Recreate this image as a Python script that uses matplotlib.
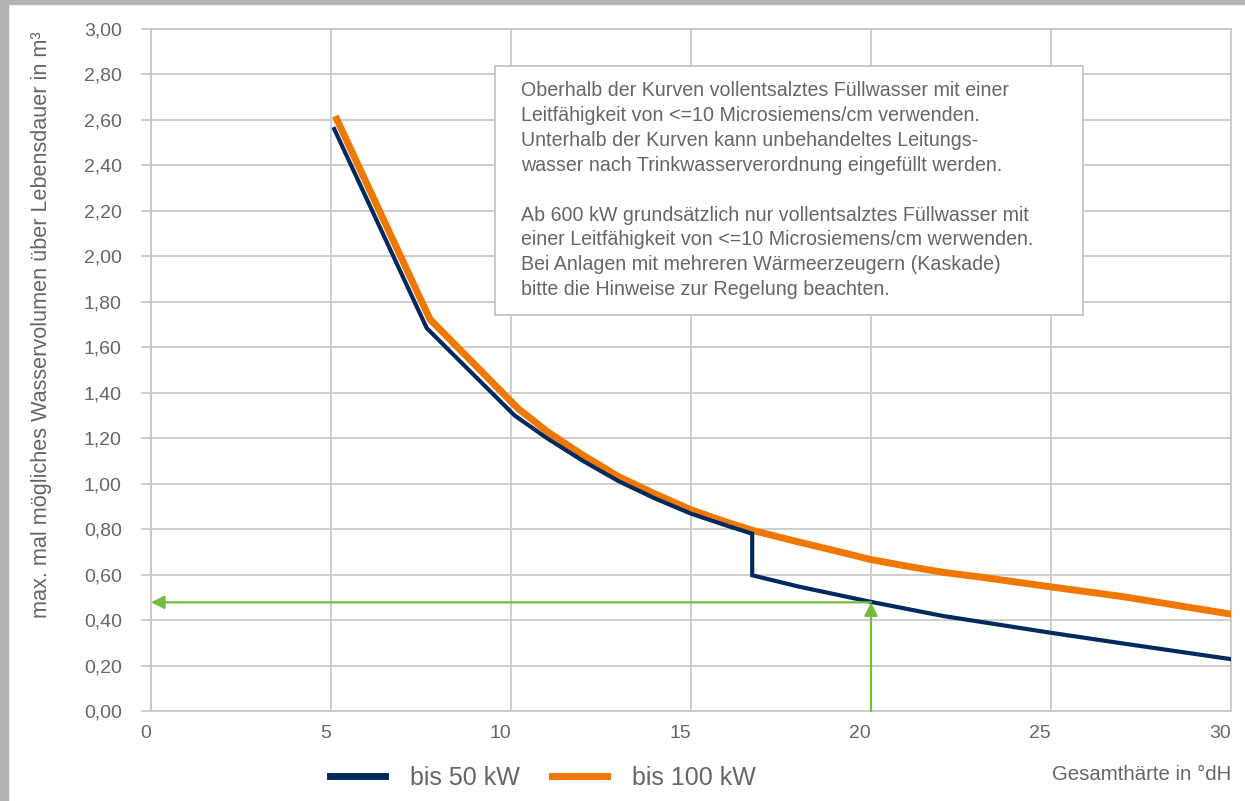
"""Füllwasser-Diagramm: max. Wasservolumen über Gesamthärte."""

import matplotlib

matplotlib.use("Agg")
import matplotlib.pyplot as plt
from matplotlib.patches import Rectangle
from matplotlib.ticker import FuncFormatter, MultipleLocator

plt.rcParams["font.family"] = ["Liberation Sans", "DejaVu Sans"]

# bis 50 kW (navy), vertical drop at 16.7 °dH
kw50_x = [5.09, 7.66, 10.1, 11.0, 12.0, 13.0, 14.0, 15.0, 16.0, 16.7, 16.7,
          18.0, 20.0, 22.0, 25.0, 27.0, 30.0]
kw50_y = [2.56, 1.684, 1.30, 1.20, 1.10, 1.01, 0.935, 0.868, 0.815, 0.78, 0.597,
          0.547, 0.480, 0.418, 0.344, 0.297, 0.228]

# bis 100 kW (orange)
kw100_x = [5.16, 7.75, 10.2, 11.0, 12.0, 13.0, 14.0, 15.0, 16.0, 16.7, 18.0,
           19.0, 20.0, 21.0, 22.0, 23.0, 25.0, 27.0, 30.0]
kw100_y = [2.603, 1.723, 1.33, 1.23, 1.125, 1.03, 0.955, 0.885, 0.830, 0.795, 0.743,
           0.705, 0.666, 0.637, 0.610, 0.590, 0.546, 0.503, 0.426]

# Ablesebeispiel (grüne Pfeile)
example_x = 20.0
example_y = 0.478

x_ticks = [0, 5, 10, 15, 20, 25, 30]

note = (
    "Oberhalb der Kurven vollentsalztes Füllwasser mit einer\n"
    "Leitfähigkeit von <=10 Microsiemens/cm verwenden.\n"
    "Unterhalb der Kurven kann unbehandeltes Leitungs-\n"
    "wasser nach Trinkwasserverordnung eingefüllt werden.\n"
    "\n"
    "Ab 600 kW grundsätzlich nur vollentsalztes Füllwasser mit\n"
    "einer Leitfähigkeit von <=10 Microsiemens/cm werwenden.\n"
    "Bei Anlagen mit mehreren Wärmeerzeugern (Kaskade)\n"
    "bitte die Hinweise zur Regelung beachten."
)

TEXT = "#666666"
GRID = "#c6c6c6"
NAVY = "#002a5e"
ORANGE = "#f07800"
GREEN = "#76bc3c"

fig = plt.figure(figsize=(12.45, 8.01), dpi=100)
ax = fig.add_axes([151 / 1245, 1 - 711 / 801, 1080 / 1245, 682 / 801])

# grey frame of the screenshot
fig.patches.append(Rectangle((0, 0), 8 / 1245, 1, transform=fig.transFigure,
                             color="#b3b3b3", zorder=0))
fig.patches.append(Rectangle((0, 1 - 4 / 801), 1, 4 / 801, transform=fig.transFigure,
                             color="#b3b3b3", zorder=0))

ax.set_xlim(0, 30)
ax.set_ylim(0, 3.0)
ax.set_xticks(x_ticks)
ax.yaxis.set_major_locator(MultipleLocator(0.2))
ax.yaxis.set_major_formatter(FuncFormatter(lambda v, _: f"{v:.2f}".replace(".", ",")))
ax.grid(True, color=GRID, linewidth=1.2)
ax.set_axisbelow(True)
for sp in ax.spines.values():
    sp.set_color(GRID)
    sp.set_linewidth(1.2)
ax.tick_params(axis="y", length=7, color=GRID, width=1.2, pad=14,
               labelsize=14, labelcolor=TEXT)
ax.tick_params(axis="x", length=0, pad=10, labelsize=14, labelcolor=TEXT)
for lab in ax.get_xticklabels():
    lab.set_horizontalalignment("right")

ax.plot(kw50_x, kw50_y, color=NAVY, linewidth=3.0, solid_joinstyle="miter",
        label="bis 50 kW", zorder=4)
ax.plot(kw100_x, kw100_y, color=ORANGE, linewidth=5.0, label="bis 100 kW", zorder=3)

arrow = dict(arrowstyle="-|>", color=GREEN, linewidth=1.6, mutation_scale=20,
             shrinkA=0, shrinkB=0)
ax.annotate("", xy=(0, example_y), xytext=(example_x, example_y),
            arrowprops=arrow, zorder=5)
ax.annotate("", xy=(example_x, example_y), xytext=(example_x, 0),
            arrowprops=arrow, zorder=5)

# note box
ax.add_patch(Rectangle((9.56, 1.742), 16.33, 1.096, facecolor="white",
                       edgecolor="#c0c0c0", linewidth=1.2, zorder=6))
ax.text(10.28, 2.77, note, fontsize=14.1, color=TEXT, va="top", ha="left",
        linespacing=1.39, zorder=7)

fig.text(42 / 1245, 1 - 325 / 801,
         "max. mal mögliches Wasservolumen über Lebensdauer in m³",
         rotation=90, ha="center", va="center", fontsize=15.6, color=TEXT)
fig.text(1231 / 1245, 1 - 774 / 801, "Gesamthärte in °dH", ha="right",
         va="center", fontsize=14.7, color=TEXT)

handles, labels = ax.get_legend_handles_labels()
leg = fig.legend(handles, labels, loc="center", bbox_to_anchor=(543 / 1245, 1 - 778 / 801),
                 ncol=2, frameon=False, fontsize=18, handlelength=2.2,
                 handletextpad=1.0, columnspacing=1.3)
for line in leg.get_lines():
    line.set_linewidth(5)
for t in leg.get_texts():
    t.set_color(TEXT)

fig.savefig("out.png", dpi=100)
